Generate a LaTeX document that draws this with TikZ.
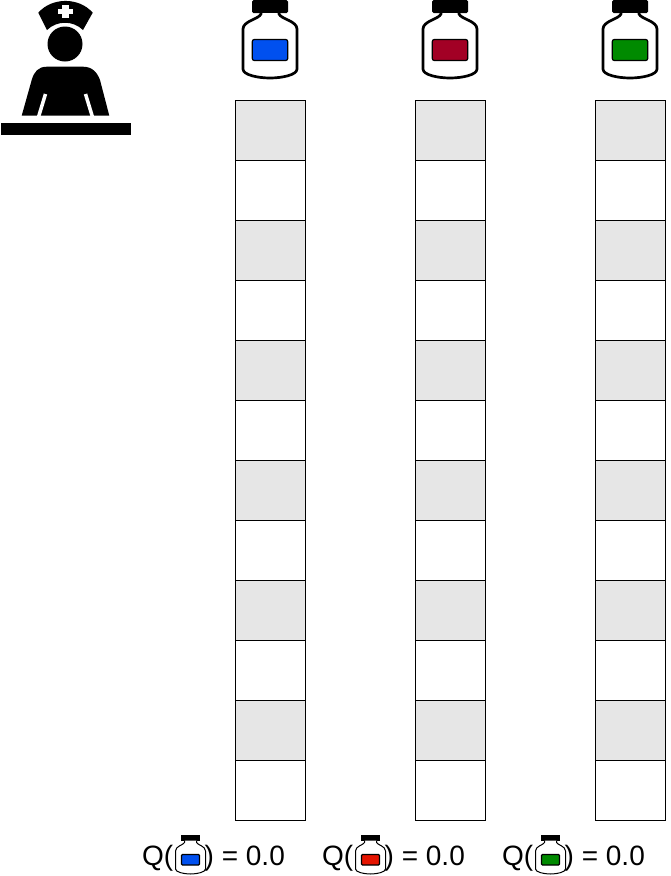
\documentclass[tikz,border=0pt]{standalone}
\usepackage{fontspec}
\setmainfont{Liberation Sans}
\definecolor{cellgray}{HTML}{E6E6E6}
\definecolor{drugblue}{HTML}{0050EF}
\definecolor{drugred}{HTML}{A20025}
\definecolor{druggreen}{HTML}{008A00}
\definecolor{smallred}{HTML}{E51400}
\tikzset{
  cell/.style={draw,line width=1pt,minimum width=70pt,minimum height=60pt,inner sep=0pt},
  qlabel/.style={inner sep=0pt,font=\fontsize{28}{32}\selectfont},
  bottle/.pic={
    \fill[black,rounded corners=1.5pt] (-18,-40) rectangle (18,-27);
    \draw[line width=2.7pt,fill=white,line join=round]
      (-9,-27) -- (-9,-26) .. controls (-11,-21) and (-27,-19) .. (-27,-11)
      -- (-27,29) .. controls (-27,35) and (-12,38) .. (0,38)
      .. controls (12,38) and (27,35) .. (27,29) -- (27,-11)
      .. controls (27,-19) and (11,-21) .. (9,-26) -- (9,-27);
    \draw[line width=1.2pt,fill=\pgfkeysvalueof{/tikz/drug},rounded corners=2pt] (-17.7,-.5) rectangle (17.7,20.5);
  },
  smallbottle/.pic={
    \fill[black] (-9.5,-20) rectangle (9.5,-14.5);
    \draw[line width=1pt,fill=white,line join=round]
      (-6,-14.5) -- (-6,-12.5) .. controls (-7,-10) and (-15,-9) .. (-15,-4)
      -- (-15,14) .. controls (-15,17) and (-7,19) .. (0,19)
      .. controls (7,19) and (15,17) .. (15,14) -- (15,-4)
      .. controls (15,-9) and (7,-10) .. (6,-12.5) -- (6,-14.5);
    \draw[line width=1.2pt,fill=\pgfkeysvalueof{/tikz/drug},rounded corners=1pt] (-9,-.5) rectangle (9,10);
  },
  drug/.initial=white
}
\begin{document}
\begin{tikzpicture}[x=1pt,y=-1pt]
  \useasboundingbox (0,0) rectangle (671,876);
  % nurse
  \fill (1,123) rectangle (130.5,135);
  \fill (65,44) circle (17.5);
  \fill (21.7,115.7) -- (31.7,80) .. controls (34,72) and (38,66.7) .. (47,66.7) -- (83,66.7)
    .. controls (92,66.7) and (97,72) .. (100,80) -- (109.3,115.7) -- cycle;
  \draw[white,line width=3.5pt] (45.5,94) -- (38.5,117);
  \draw[white,line width=3.5pt] (85.5,94) -- (92.5,117);
  \fill (38.3,12.7) .. controls (52,-3) and (79,-3) .. (92.7,12.7) -- (83,30)
    .. controls (73,20.3) and (57,20.3) .. (47,30) -- cycle;
  \fill[white] (62.3,5) rectangle (69,18.3);
  \fill[white] (58.3,9) rectangle (72.7,14.3);
  % bottles
  \pic[drug=drugblue] at (270,40) {bottle};
  \pic[drug=drugred] at (450,40) {bottle};
  \pic[drug=druggreen] at (630,40) {bottle};
  % cells
  \foreach \col/\x in {a/270.5,b/450.5,c/630.5}
    \foreach \row in {1,...,12} {
      \pgfmathsetmacro{\y}{70.5+60*\row}
      \pgfmathparse{int(mod(\row,2))}
      \ifnum\pgfmathresult=1
        \node[cell,fill=cellgray] (\col\row) at (\x,\y) {};
      \else
        \node[cell] (\col\row) at (\x,\y) {};
      \fi
    }
  % values
  \foreach \col/\x/\c in {a/0/drugblue,b/180/smallred,c/360/druggreen} {
    \node[qlabel,anchor=base west] (q\col) at (142+\x,865) {Q(};
    \pic[drug=\c] at (190.5+\x,855) {smallbottle};
    \node[qlabel,anchor=base west] (v\col) at (204.5+\x,865) {) = 0.0};
  }
\end{tikzpicture}
\end{document}
